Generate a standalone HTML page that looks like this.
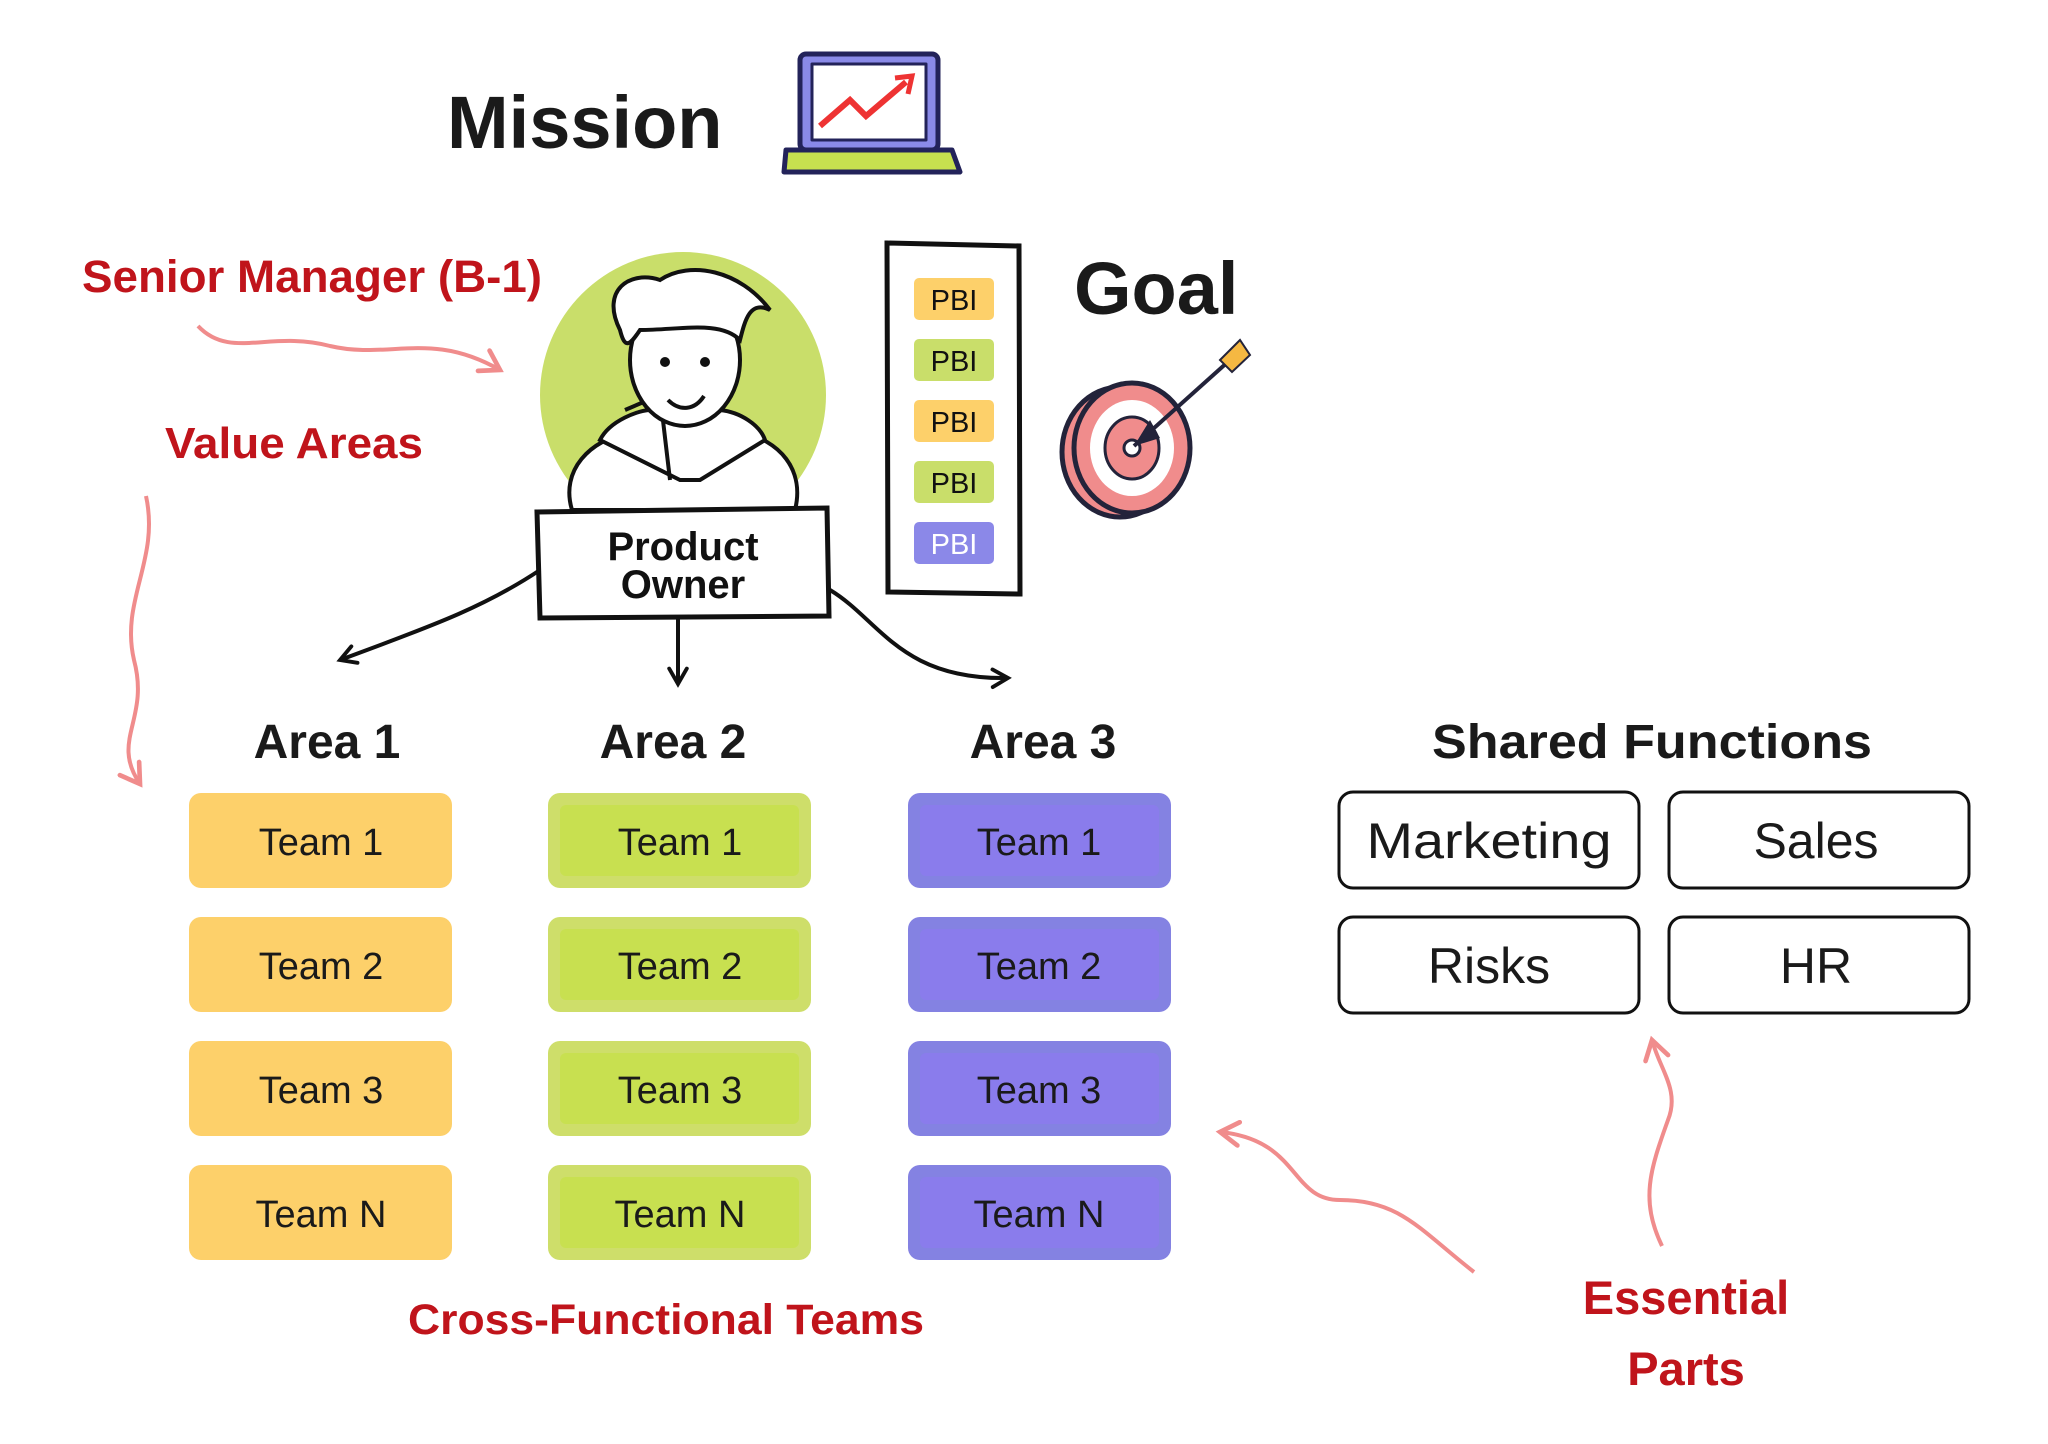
<!DOCTYPE html>
<html><head><meta charset="utf-8">
<style>
html,body{margin:0;padding:0;background:#fff;}
svg{display:block;}
text{font-family:"Liberation Sans","DejaVu Sans",sans-serif;}
</style></head>
<body>
<svg width="2048" height="1444" viewBox="0 0 2048 1444" xmlns="http://www.w3.org/2000/svg">
<defs>
<marker id="ah" viewBox="0 0 20 20" refX="16" refY="10" markerWidth="22" markerHeight="22" markerUnits="userSpaceOnUse" orient="auto">
<path d="M2,2 L16,10 L2,18" fill="none" stroke="#111" stroke-width="3.5" stroke-linecap="round"/></marker>
<marker id="ahp" viewBox="0 0 24 24" refX="18" refY="12" markerWidth="28" markerHeight="28" markerUnits="userSpaceOnUse" orient="auto">
<path d="M2,2 L18,12 L2,22" fill="none" stroke="#F08C8C" stroke-width="4" stroke-linecap="round"/></marker>
</defs>

<text x="447" y="148" font-size="74" font-weight="bold" fill="#1a1a1a">Mission</text>
<g stroke="#23235a" stroke-width="5" stroke-linejoin="round">
<rect x="800" y="54" width="138" height="96" rx="6" fill="#8a8ae8"/>
<rect x="812" y="64" width="114" height="76" fill="#fff" stroke-width="3"/>
<path d="M786,150 L952,150 L960,172 L784,172 Z" fill="#c7e04f"/>
</g>
<path d="M820,126 L850,100 L866,116 L906,82" fill="none" stroke="#e33" stroke-width="6"/>
<path d="M895,78 L912,76 L908,94" fill="none" stroke="#e33" stroke-width="5"/>

<text x="82" y="292" font-size="45" font-weight="bold" fill="#C0141B" textLength="460" lengthAdjust="spacingAndGlyphs">Senior Manager (B-1)</text>
<path d="M198,326 C230,360 270,330 330,346 C390,360 430,330 500,370" fill="none" stroke="#F08C8C" stroke-width="4" marker-end="url(#ahp)"/>
<text x="165" y="458" font-size="44" font-weight="bold" fill="#C0141B" textLength="258" lengthAdjust="spacingAndGlyphs">Value Areas</text>
<path d="M146,496 C160,560 120,600 134,660 C150,720 110,740 140,784" fill="none" stroke="#F08C8C" stroke-width="4" marker-end="url(#ahp)"/>

<circle cx="683" cy="395" r="143" fill="#C9DE6A"/>
<g stroke="#111" stroke-width="4" fill="#fff">
<path d="M572,510 C560,470 590,440 630,432 L740,432 C780,440 805,470 795,510 Z"/>
<path d="M600,440 C610,420 640,410 650,410 L720,410 C740,412 760,425 765,440 L700,480 L680,480 Z" fill="#fff"/>
<path d="M625,410 L660,395 L670,480" fill="none"/>
<ellipse cx="685" cy="360" rx="55" ry="66"/>
<path d="M620,330 C600,290 630,270 660,280 C690,260 740,270 770,310 C750,300 745,320 740,340 C720,320 680,330 640,330 C630,345 625,350 620,330Z"/>
</g>
<circle cx="665" cy="362" r="5" fill="#111"/><circle cx="705" cy="362" r="5" fill="#111"/>
<path d="M668,400 C680,412 695,410 704,396" fill="none" stroke="#111" stroke-width="4"/>
<path d="M537,512 L827,508 L829,616 L540,618 Z" fill="#fff" stroke="#111" stroke-width="5"/>
<text x="683" y="560" font-size="40" font-weight="bold" text-anchor="middle" fill="#111">Product</text>
<text x="683" y="598" font-size="40" font-weight="bold" text-anchor="middle" fill="#111">Owner</text>

<path d="M540,570 C480,610 420,630 340,660" fill="none" stroke="#111" stroke-width="4" marker-end="url(#ah)"/>
<path d="M678,618 L678,684" fill="none" stroke="#111" stroke-width="4" marker-end="url(#ah)"/>
<path d="M830,590 C880,620 900,680 1008,678" fill="none" stroke="#111" stroke-width="4" marker-end="url(#ah)"/>

<path d="M887,243 L1019,246 L1020,594 L888,592 Z" fill="#fff" stroke="#111" stroke-width="5"/>
<g font-size="29" text-anchor="middle">
<rect x="914" y="278" width="80" height="42" rx="5" fill="#FDD06A"/><text x="954" y="310" fill="#111">PBI</text>
<rect x="914" y="339" width="80" height="42" rx="5" fill="#C9DE6A"/><text x="954" y="371" fill="#111">PBI</text>
<rect x="914" y="400" width="80" height="42" rx="5" fill="#FDD06A"/><text x="954" y="432" fill="#111">PBI</text>
<rect x="914" y="461" width="80" height="42" rx="5" fill="#C9DE6A"/><text x="954" y="493" fill="#111">PBI</text>
<rect x="914" y="522" width="80" height="42" rx="5" fill="#8B88E8"/><text x="954" y="554" fill="#fff">PBI</text>
</g>

<text x="1074" y="314" font-size="74" font-weight="bold" fill="#1a1a1a">Goal</text>
<ellipse cx="1120" cy="452" rx="58" ry="65" fill="#F08C8C" stroke="#23233a" stroke-width="5"/>
<ellipse cx="1132" cy="448" rx="58" ry="65" fill="#F08C8C" stroke="#23233a" stroke-width="5"/>
<ellipse cx="1132" cy="448" rx="42" ry="48" fill="#fff"/>
<ellipse cx="1132" cy="448" rx="27" ry="31" fill="#F08C8C" stroke="#23233a" stroke-width="3"/>
<circle cx="1132" cy="448" r="8" fill="#fff" stroke="#23233a" stroke-width="3"/>
<path d="M1134,446 L1230,360" stroke="#23233a" stroke-width="4"/>
<path d="M1134,446 L1150,420 L1160,438 Z" fill="#23233a"/>
<path d="M1220,360 L1240,340 L1250,355 L1232,372 Z" fill="#F5B842" stroke="#23233a" stroke-width="2"/>

<g font-size="48" font-weight="bold" fill="#1a1a1a" text-anchor="middle">
<text x="327" y="758">Area 1</text>
<text x="673" y="758">Area 2</text>
<text x="1043" y="758">Area 3</text>
<text x="1652" y="758" textLength="440" lengthAdjust="spacingAndGlyphs">Shared Functions</text>
</g>

<g font-size="38" text-anchor="middle" fill="#1a1a1a">
<g fill="#FDD06A">
<rect x="189" y="793" width="263" height="95" rx="12"/>
<rect x="189" y="917" width="263" height="95" rx="12"/>
<rect x="189" y="1041" width="263" height="95" rx="12"/>
<rect x="189" y="1165" width="263" height="95" rx="12"/>
</g>
<g fill="#CEDE6A">
<rect x="548" y="793" width="263" height="95" rx="12"/>
<rect x="548" y="917" width="263" height="95" rx="12"/>
<rect x="548" y="1041" width="263" height="95" rx="12"/>
<rect x="548" y="1165" width="263" height="95" rx="12"/>
</g>
<g fill="#C8E050">
<rect x="560" y="805" width="239" height="71" rx="6"/>
<rect x="560" y="929" width="239" height="71" rx="6"/>
<rect x="560" y="1053" width="239" height="71" rx="6"/>
<rect x="560" y="1177" width="239" height="71" rx="6"/>
</g>
<g fill="#8482E2">
<rect x="908" y="793" width="263" height="95" rx="12"/>
<rect x="908" y="917" width="263" height="95" rx="12"/>
<rect x="908" y="1041" width="263" height="95" rx="12"/>
<rect x="908" y="1165" width="263" height="95" rx="12"/>
</g>
<g fill="#8A7CEC">
<rect x="920" y="805" width="239" height="71" rx="6"/>
<rect x="920" y="929" width="239" height="71" rx="6"/>
<rect x="920" y="1053" width="239" height="71" rx="6"/>
<rect x="920" y="1177" width="239" height="71" rx="6"/>
</g>
<text x="321" y="855">Team 1</text><text x="321" y="979">Team 2</text><text x="321" y="1103">Team 3</text><text x="321" y="1227">Team N</text>
<text x="680" y="855">Team 1</text><text x="680" y="979">Team 2</text><text x="680" y="1103">Team 3</text><text x="680" y="1227">Team N</text>
<text x="1039" y="855">Team 1</text><text x="1039" y="979">Team 2</text><text x="1039" y="1103">Team 3</text><text x="1039" y="1227">Team N</text>
</g>

<g fill="#fff" stroke="#111" stroke-width="3">
<rect x="1339" y="792" width="300" height="96" rx="14"/>
<rect x="1669" y="792" width="300" height="96" rx="14"/>
<rect x="1339" y="917" width="300" height="96" rx="14"/>
<rect x="1669" y="917" width="300" height="96" rx="14"/>
</g>
<g font-size="50" text-anchor="middle" fill="#1a1a1a">
<text x="1489" y="858" textLength="245" lengthAdjust="spacingAndGlyphs">Marketing</text>
<text x="1816" y="858">Sales</text>
<text x="1489" y="983">Risks</text>
<text x="1816" y="983">HR</text>
</g>

<text x="666" y="1334" font-size="43" font-weight="bold" text-anchor="middle" fill="#C0141B" textLength="516" lengthAdjust="spacingAndGlyphs">Cross-Functional Teams</text>
<text x="1686" y="1314" font-size="47" font-weight="bold" text-anchor="middle" fill="#C0141B">Essential</text>
<text x="1686" y="1385" font-size="47" font-weight="bold" text-anchor="middle" fill="#C0141B">Parts</text>

<path d="M1474,1272 C1420,1230 1400,1200 1340,1200 C1290,1200 1300,1140 1220,1132" fill="none" stroke="#F08C8C" stroke-width="4" marker-end="url(#ahp)"/>
<path d="M1662,1246 C1640,1200 1650,1170 1668,1120 C1680,1090 1660,1070 1652,1040" fill="none" stroke="#F08C8C" stroke-width="4" marker-end="url(#ahp)"/>
</svg>
</body></html>
